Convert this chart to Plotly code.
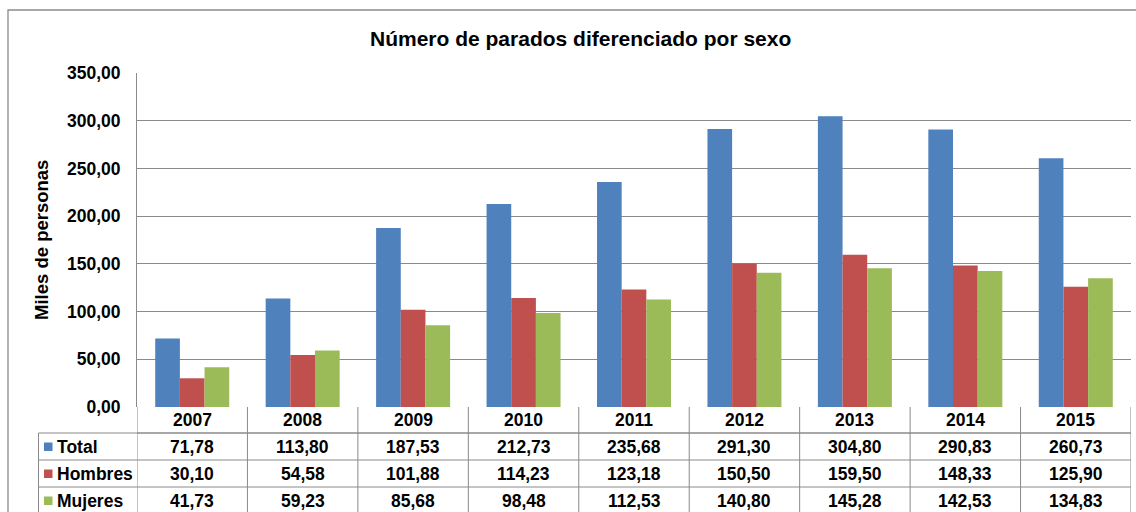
import plotly.graph_objects as go

years = ["2007", "2008", "2009", "2010", "2011", "2012", "2013", "2014", "2015"]
total = [71.78, 113.80, 187.53, 212.73, 235.68, 291.30, 304.80, 290.83, 260.73]
hombres = [30.10, 54.58, 101.88, 114.23, 123.18, 150.50, 159.50, 148.33, 125.90]
mujeres = [41.73, 59.23, 85.68, 98.48, 112.53, 140.80, 145.28, 142.53, 134.83]
series_names = ["Total", "Hombres", "Mujeres"]
series_colors = ["#4F81BD", "#C0504D", "#9BBB59"]
y_ticks = [0, 50, 100, 150, 200, 250, 300, 350]

W, H = 1136, 512
L, R, T, B = 137, 5, 73, 105
PW, PH = W - L - R, H - T - B
FONT = "Liberation Sans, Arial, sans-serif"
GRID = "#8a8a8a"


def px_x(x):
    return (x - L) / PW


def px_y(y):
    return (H - B - y) / PH


fig = go.Figure()
for name, vals, col in zip(series_names, [total, hombres, mujeres], series_colors):
    fig.add_trace(go.Bar(x=years, y=vals, name=name, marker=dict(color=col, line=dict(width=0)),
                         showlegend=False))

shapes = []
annotations = []

# outer chart border
shapes.append(dict(type="rect", xref="paper", yref="paper", x0=px_x(8), x1=px_x(1145),
                   y0=px_y(525), y1=px_y(10), line=dict(color="#8c8c8c", width=1.3)))

# table rows (y pixel boundaries)
row_edges = [407, 433, 460, 487, 514]
shapes.append(dict(type="line", xref="paper", yref="paper", x0=0, x1=1, y0=px_y(row_edges[1]),
                   y1=px_y(row_edges[1]), line=dict(color=GRID, width=1)))
for ye in row_edges[1:]:
    shapes.append(dict(type="line", xref="paper", yref="paper", x0=px_x(38.5), x1=1,
                       y0=px_y(ye), y1=px_y(ye), line=dict(color=GRID, width=1)))
for i in range(len(years) + 1):
    shapes.append(dict(type="line", xref="x", yref="paper", x0=i - 0.5, x1=i - 0.5,
                       y0=px_y(row_edges[-1]), y1=0, line=dict(color=GRID, width=1)))
shapes.append(dict(type="line", xref="paper", yref="paper", x0=px_x(38.5), x1=px_x(38.5),
                   y0=px_y(row_edges[-1]), y1=px_y(row_edges[1]), line=dict(color=GRID, width=1)))

tfont = dict(family=FONT, size=17.5, color="#000000")

hy = px_y((row_edges[0] + row_edges[1]) / 2)
for i, yr in enumerate(years):
    annotations.append(dict(xref="x", yref="paper", x=i, y=hy, text="<b>%s</b>" % yr,
                            showarrow=False, font=tfont, xanchor="center", yanchor="middle"))

for r, (name, vals, col) in enumerate(zip(series_names, [total, hombres, mujeres], series_colors)):
    cy = (row_edges[r + 1] + row_edges[r + 2]) / 2
    for i, v in enumerate(vals):
        annotations.append(dict(xref="x", yref="paper", x=i, y=px_y(cy),
                                text="<b>%s</b>" % ("%.2f" % v).replace(".", ","),
                                showarrow=False, font=tfont, xanchor="center", yanchor="middle"))
    annotations.append(dict(xref="paper", yref="paper", x=px_x(55), y=px_y(cy),
                            text="<b>%s</b>" % name, showarrow=False, font=tfont,
                            xanchor="left", yanchor="middle"))
    shapes.append(dict(type="rect", xref="paper", yref="paper", x0=px_x(44), x1=px_x(52.5),
                       y0=px_y(cy + 4.5), y1=px_y(cy - 4), fillcolor=col, line=dict(width=0)))

annotations.append(dict(xref="paper", yref="paper", x=px_x(580), y=px_y(39),
                        text="<b>Número de parados diferenciado por sexo</b>", showarrow=False,
                        font=dict(family=FONT, size=21, color="#000000"),
                        xanchor="center", yanchor="middle"))
annotations.append(dict(xref="paper", yref="paper", x=px_x(41), y=px_y(240),
                        text="<b>Miles de personas</b>", showarrow=False, textangle=-90,
                        font=dict(family=FONT, size=18.5, color="#000000"),
                        xanchor="center", yanchor="middle"))

fig.update_layout(
    width=W, height=H,
    margin=dict(l=L, r=R, t=T, b=B, pad=0),
    paper_bgcolor="white", plot_bgcolor="white",
    separators=",.",
    barmode="group", bargap=0.33, bargroupgap=0,
    shapes=shapes, annotations=annotations,
    xaxis=dict(type="category", showticklabels=False, showgrid=False, zeroline=False,
               showline=False, ticks="", range=[-0.5, len(years) - 0.5]),
    yaxis=dict(range=[0, 350], tickvals=y_ticks, tickformat=".2f", showgrid=True,
               gridcolor=GRID, gridwidth=1, zeroline=False, showline=True, linecolor=GRID,
               linewidth=1, ticks="", ticklabelstandoff=12,
               tickfont=dict(family=FONT, size=17.5, color="#000000", weight="bold")),
    font=dict(family=FONT),
)

fig.write_html("out.html", config={"displayModeBar": False},
               post_script="document.body.style.margin='0';document.body.style.overflow='hidden';")
